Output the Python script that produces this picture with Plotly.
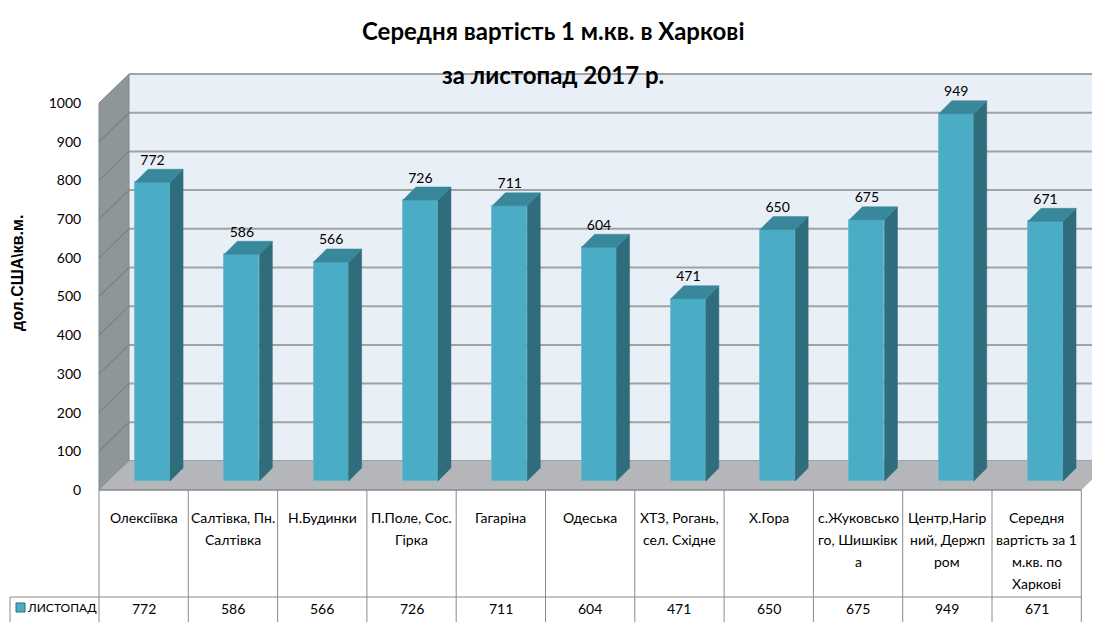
import plotly.graph_objects as go

# ---------------- data ----------------
CATEGORIES = [
    "Олексіївка",
    "Салтівка, Пн.\nСалтівка",
    "Н.Будинки",
    "П.Поле, Сос.\nГірка",
    "Гагаріна",
    "Одеська",
    "ХТЗ, Рогань,\nсел. Східне",
    "Х.Гора",
    "с.Жуковсько\nго, Шишківк\nа",
    "Центр,Нагір\nний, Держп\nром",
    "Середня\nвартість за 1\nм.кв. по\nХаркові",
]
VALUES = [772, 586, 566, 726, 711, 604, 471, 650, 675, 949, 671]
SERIES_NAME = "ЛИСТОПАД"
TITLE_LINES = ["Середня вартість 1 м.кв. в Харкові", "за листопад 2017 р."]
Y_TITLE = "дол.США\\кв.м."
Y_TICKS = [0, 100, 200, 300, 400, 500, 600, 700, 800, 900, 1000]

# ---------------- geometry (layout constants, page pixels) ----------------
PAGE_OFF = 8                 # default body margin of the html page
W, H = 1100 - PAGE_OFF, 622 - PAGE_OFF
PX_X = 89.3                  # pixels per category
PX_Y = 0.387                 # pixels per value unit
X0_PX = 99                   # page pixel of left edge of first category
Y0_PX = 490                  # page pixel of value 0 on the front plane

XMIN = -0.5 - (X0_PX - PAGE_OFF) / PX_X
XMAX = XMIN + W / PX_X
YMAX = (Y0_PX - PAGE_OFF) / PX_Y
YMIN = YMAX - H / PX_Y

def vx(px):  # page pixel -> x data
    return -0.5 + (px - X0_PX) / PX_X

def vy(py):  # page pixel -> y data
    return (Y0_PX - py) / PX_Y

WALL_DX, WALL_DY = 30 / PX_X, 29 / PX_Y      # back wall depth
BAR_BASE = 9 / PX_Y                          # bars sit mid-depth
BAR_OFF, BAR_W = -8.6 / PX_X, 35 / PX_X
BAR_DX, BAR_DY = 13 / PX_X, 13 / PX_Y

FONT = "Lato, Roboto, sans-serif"
C_FRONT, C_SIDE, C_TOP = "#4bacc6", "#2f6d7c", "#38879a"

n = len(CATEGORIES)
idx = list(range(n))

fig = go.Figure()

# front faces
fig.add_trace(go.Bar(
    x=idx, y=VALUES, base=BAR_BASE, width=BAR_W, offset=BAR_OFF,
    marker=dict(color=C_FRONT, line=dict(color="#5fb8cf", width=0.8)),
    name=SERIES_NAME, showlegend=False, hoverinfo="skip",
))

# side and top faces derived from the values
sx, sy, tx, ty = [], [], [], []
for i, v in zip(idx, VALUES):
    xr = i + BAR_OFF + BAR_W
    xl = i + BAR_OFF
    top = BAR_BASE + v
    sx += [xr, xr + BAR_DX, xr + BAR_DX, xr, xr, None]
    sy += [BAR_BASE, BAR_BASE + BAR_DY, top + BAR_DY, top, BAR_BASE, None]
    tx += [xl, xr, xr + BAR_DX, xl + BAR_DX, xl, None]
    ty += [top, top, top + BAR_DY, top + BAR_DY, top, None]
fig.add_trace(go.Scatter(x=sx, y=sy, mode="lines", fill="toself", fillcolor=C_SIDE,
                         line=dict(color=C_SIDE, width=0.5), showlegend=False, hoverinfo="skip"))
fig.add_trace(go.Scatter(x=tx, y=ty, mode="lines", fill="toself", fillcolor=C_TOP,
                         line=dict(color=C_TOP, width=0.5), showlegend=False, hoverinfo="skip"))

# data labels
fig.add_trace(go.Scatter(
    x=[i + BAR_OFF + BAR_W / 2 for i in idx],
    y=[BAR_BASE + v + BAR_DY + 8 / PX_Y for v in VALUES],
    mode="text", text=[str(v) for v in VALUES],
    textfont=dict(family=FONT, size=14, color="#000"),
    showlegend=False, hoverinfo="skip",
))

# legend key in the data table
fig.add_trace(go.Scatter(
    x=[vx(20.5)], y=[vy(607.5)], mode="markers",
    marker=dict(symbol="square", size=9, color=C_FRONT, line=dict(color="#2f6d7c", width=1)),
    showlegend=False, hoverinfo="skip",
))

shapes = []
# back wall
shapes.append(dict(type="rect", xref="x", yref="y", x0=-0.5 + WALL_DX, x1=XMAX + 0.2,
                   y0=WALL_DY, y1=1000 + WALL_DY, fillcolor="#e9eff6",
                   line=dict(width=0), layer="below"))
for t in Y_TICKS:
    shapes.append(dict(type="line", xref="x", yref="y", x0=-0.5 + WALL_DX, x1=XMAX + 0.2,
                       y0=t + WALL_DY, y1=t + WALL_DY,
                       line=dict(color="#a2a2a2", width=2), layer="below"))
# left wall
shapes.append(dict(type="path", xref="x", yref="y",
                   path=f"M {-0.5},{0} L {-0.5 + WALL_DX},{WALL_DY} L {-0.5 + WALL_DX},{1000 + WALL_DY} L {-0.5},{1000} Z",
                   fillcolor="#8f969a", line=dict(color="#80878a", width=1), layer="below"))
for t in Y_TICKS[1:-1]:
    shapes.append(dict(type="line", xref="x", yref="y", x0=-0.5, x1=-0.5 + WALL_DX,
                       y0=t, y1=t + WALL_DY, line=dict(color="#7a8185", width=1.2), layer="below"))
# floor
shapes.append(dict(type="path", xref="x", yref="y",
                   path=f"M {-0.5},{0} L {n - 0.5},{0} L {n - 0.5 + WALL_DX},{WALL_DY} L {-0.5 + WALL_DX},{WALL_DY} Z",
                   fillcolor="#b4b6b9", line=dict(width=0), layer="below"))

# data table
LINE = dict(color="#8a8a8a", width=1)
y_top, y_row, y_bot = 0, vy(597), YMIN
x_leg = vx(10)
shapes.append(dict(type="line", xref="x", yref="y", x0=-0.5, x1=n - 0.5, y0=y_top, y1=y_top,
                   line=dict(color="#8a8a8a", width=1.5)))
shapes.append(dict(type="line", xref="x", yref="y", x0=x_leg, x1=n - 0.5, y0=y_row, y1=y_row, line=LINE))
shapes.append(dict(type="line", xref="x", yref="y", x0=x_leg, x1=x_leg, y0=y_row, y1=y_bot, line=LINE))
for k in range(n + 1):
    shapes.append(dict(type="line", xref="x", yref="y", x0=k - 0.5, x1=k - 0.5,
                       y0=y_top, y1=y_bot, line=LINE))

annotations = []
# category labels (one annotation per line)
for i, cat in enumerate(CATEGORIES):
    for j, line in enumerate(cat.split("\n")):
        annotations.append(dict(x=i, y=vy(517 + 22 * j), xref="x", yref="y", text=line,
                                showarrow=False, xanchor="center", yanchor="middle",
                                font=dict(family=FONT, size=14, color="#000")))
# values row
for i, v in enumerate(VALUES):
    annotations.append(dict(x=i, y=vy(608), xref="x", yref="y", text=str(v), showarrow=False,
                            font=dict(family=FONT, size=14, color="#000")))
annotations.append(dict(x=vx(25), y=vy(607), xref="x", yref="y", xanchor="left",
                        text=SERIES_NAME, showarrow=False,
                        font=dict(family=FONT, size=12, color="#000")))
# title
for j, t in enumerate(TITLE_LINES):
    annotations.append(dict(x=vx(553), y=vy(30 + 44 * j), xref="x", yref="y", text=f"<b>{t}</b>",
                            showarrow=False, font=dict(family=FONT, size=24, color="#000")))
# y-axis title
annotations.append(dict(x=vx(17), y=vy(273), xref="x", yref="y", text=f"<b>{Y_TITLE}</b>",
                        textangle=-90, showarrow=False,
                        font=dict(family="Liberation Sans, Arial, sans-serif", size=16, color="#000")))

fig.update_layout(
    width=W, height=H, margin=dict(l=0, r=0, t=0, b=0),
    paper_bgcolor="white", plot_bgcolor="white",
    showlegend=False, shapes=shapes, annotations=annotations,
    xaxis=dict(range=[XMIN, XMAX], domain=[0, 1], visible=False, fixedrange=True),
    yaxis=dict(range=[YMIN, YMAX], domain=[0, 1], anchor="free", position=(X0_PX - PAGE_OFF) / W,
               tickvals=Y_TICKS, ticktext=[str(t) for t in Y_TICKS],
               ticks="outside", ticklen=15, tickcolor="rgba(0,0,0,0)",
               showgrid=False, zeroline=False, showline=False,
               tickfont=dict(family=FONT, size=14, color="#000"), fixedrange=True),
    bargap=0,
)

fig.write_html("out.html")
